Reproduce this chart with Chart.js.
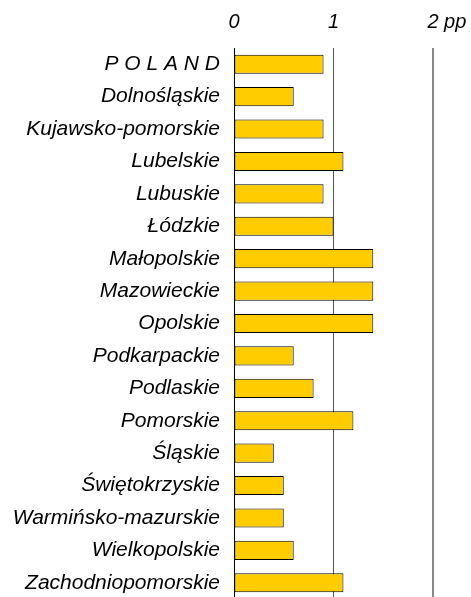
<!DOCTYPE html>
<html>
<head>
<meta charset="utf-8">
<script src="https://cdn.jsdelivr.net/npm/chart.js@4/dist/chart.umd.min.js"></script>
<style>
  html, body { margin: 0; padding: 0; background: #fff; overflow: hidden; }
  canvas { display: block; }
</style>
</head>
<body>
<canvas id="c" width="471" height="600" style="width:471px;height:600px"></canvas>
<script>
const categories = ["P O L A N D", "Dolnośląskie", "Kujawsko-pomorskie", "Lubelskie", "Lubuskie", "Łódzkie", "Małopolskie", "Mazowieckie", "Opolskie", "Podkarpackie", "Podlaskie", "Pomorskie", "Śląskie", "Świętokrzyskie", "Warmińsko-mazurskie", "Wielkopolskie", "Zachodniopomorskie"];
const values = [0.9, 0.6, 0.9, 1.1, 0.9, 1.0, 1.4, 1.4, 1.4, 0.6, 0.8, 1.2, 0.4, 0.5, 0.5, 0.6, 1.1];
const tickLabels = {0: "0", 1: "1", 2: "     2 pp"};

const labelFont = { family: "'Liberation Sans', Arial, sans-serif", size: 21, style: "italic" };
const tickFont = { family: "'Liberation Sans', Arial, sans-serif", size: 20, style: "italic" };

new Chart(document.getElementById('c'), {
  type: 'bar',
  data: {
    labels: categories,
    datasets: [{
      data: values,
      backgroundColor: '#FFCC00',
      borderColor: '#000000',
      borderWidth: 1,
      borderSkipped: false,
      barPercentage: 0.59,
      categoryPercentage: 1.0
    }]
  },
  options: {
    indexAxis: 'y',
    responsive: false,
    maintainAspectRatio: false,
    animation: false,
    devicePixelRatio: 1,
    layout: { padding: { top: 0, right: 38, bottom: 1, left: 0 } },
    plugins: { legend: { display: false }, tooltip: { enabled: false }, title: { display: false } },
    scales: {
      x: {
        position: 'top',
        min: 0,
        max: 2,
        ticks: {
          stepSize: 1,
          color: '#000',
          font: tickFont,
          padding: 14,
          maxRotation: 0,
          callback: (v) => tickLabels[v] !== undefined ? tickLabels[v] : ''
        },
        border: { display: false },
        grid: {
          drawTicks: false,
          color: (ctx) => ctx.tick && ctx.tick.value === 0 ? '#000' : (ctx.tick && ctx.tick.value === 2 ? '#888' : '#555'),
          lineWidth: (ctx) => ctx.tick && ctx.tick.value === 2 ? 2 : 1
        },
        afterFit: (s) => { s.height = 48; s.paddingLeft = 0; s.paddingRight = 0; }
      },
      y: {
        ticks: { color: '#000', font: labelFont, padding: 14, autoSkip: false },
        grid: { display: false, drawTicks: false },
        border: { display: true, color: '#000', width: 1 },
        afterFit: (s) => { s.width = 234; s.paddingTop = 0; s.paddingBottom = 0; }
      }
    }
  }
});
</script>
</body>
</html>
